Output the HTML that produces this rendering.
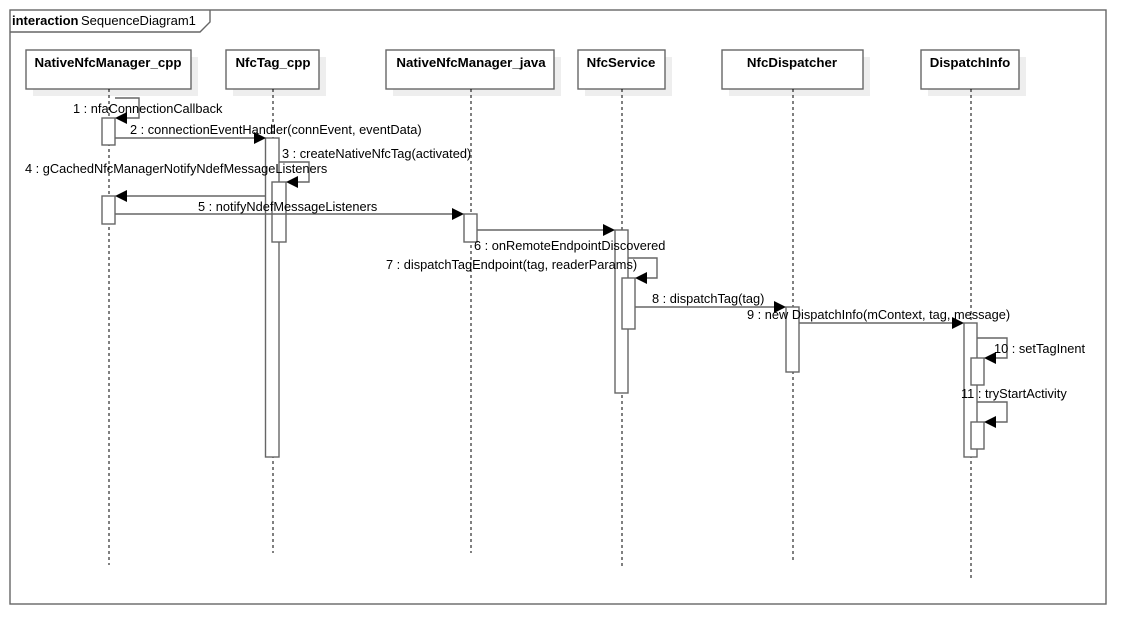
<!DOCTYPE html>
<html><head><meta charset="utf-8"><style>
html,body{margin:0;padding:0;background:#fff;}
svg{display:block;}
text{font-family:"Liberation Sans",sans-serif;font-size:12.8px;fill:#000;}
.b{font-weight:bold;font-size:13.3px;}
.t{font-size:13px;}
.l{stroke:#666;stroke-width:1.4;fill:none;}
.a{stroke:#666;stroke-width:1.4;fill:#fff;}
.d{stroke:#000;stroke-width:1;stroke-dasharray:3,3;}
.sh{fill:#eee;}
</style></head><body>
<svg width="1146" height="644" viewBox="0 0 1146 644">
<rect x="0" y="0" width="1146" height="644" fill="#fff"/>
<rect x="10" y="10" width="1096" height="594" class="l"/>
<path d="M10 32 L200 32 L210 22 L210 10" class="l"/>
<text x="12" y="25" class="b t">interaction</text><text x="81" y="25" class="t">SequenceDiagram1</text>

<g>
<rect x="33" y="57" width="165" height="39" class="sh"/>
<rect x="26" y="50" width="165" height="39" class="a"/>
<text x="108" y="67" text-anchor="middle" class="b">NativeNfcManager_cpp</text>
<rect x="233" y="57" width="93" height="39" class="sh"/>
<rect x="226" y="50" width="93" height="39" class="a"/>
<text x="273" y="67" text-anchor="middle" class="b">NfcTag_cpp</text>
<rect x="393" y="57" width="168" height="39" class="sh"/>
<rect x="386" y="50" width="168" height="39" class="a"/>
<text x="471" y="67" text-anchor="middle" class="b">NativeNfcManager_java</text>
<rect x="585" y="57" width="87" height="39" class="sh"/>
<rect x="578" y="50" width="87" height="39" class="a"/>
<text x="621" y="67" text-anchor="middle" class="b">NfcService</text>
<rect x="729" y="57" width="141" height="39" class="sh"/>
<rect x="722" y="50" width="141" height="39" class="a"/>
<text x="792" y="67" text-anchor="middle" class="b">NfcDispatcher</text>
<rect x="928" y="57" width="98" height="39" class="sh"/>
<rect x="921" y="50" width="98" height="39" class="a"/>
<text x="970" y="67" text-anchor="middle" class="b">DispatchInfo</text>
</g>

<line x1="109" y1="89" x2="109" y2="565" class="d"/>
<line x1="273" y1="89" x2="273" y2="553" class="d"/>
<line x1="471" y1="89" x2="471" y2="553" class="d"/>
<line x1="622" y1="89" x2="622" y2="568" class="d"/>
<line x1="793" y1="89" x2="793" y2="562" class="d"/>
<line x1="971" y1="89" x2="971" y2="578" class="d"/>

<rect x="102" y="118" width="13" height="27" class="a"/>
<rect x="102" y="196" width="13" height="28" class="a"/>
<rect x="265.5" y="138" width="13.5" height="319" class="a"/>
<rect x="272" y="182" width="14" height="60" class="a"/>
<rect x="464" y="214" width="13" height="28" class="a"/>
<rect x="615" y="230" width="13" height="163" class="a"/>
<rect x="622" y="278" width="13" height="51" class="a"/>
<rect x="786" y="307" width="13" height="65" class="a"/>
<rect x="964" y="323" width="13" height="134" class="a"/>
<rect x="971" y="358" width="13" height="27" class="a"/>
<rect x="971" y="422" width="13" height="27" class="a"/>

<path d="M115 98 H139 V118 H126" class="l"/><polygon points="115,118 127,112 127,124"/>
<path d="M115 138 H255" class="l"/><polygon points="266,138 254,132 254,144"/>
<path d="M279 162 H309 V182 H297" class="l"/><polygon points="286,182 298,176 298,188"/>
<path d="M266 196 H126" class="l"/><polygon points="115,196 127,190 127,202"/>
<path d="M115 214 H453" class="l"/><polygon points="464,214 452,208 452,220"/>
<path d="M477 230 H604" class="l"/><polygon points="615,230 603,224 603,236"/>
<path d="M628 258 H657 V278 H646" class="l"/><polygon points="635,278 647,272 647,284"/>
<path d="M635 307 H775" class="l"/><polygon points="786,307 774,301 774,313"/>
<path d="M799 323 H953" class="l"/><polygon points="964,323 952,317 952,329"/>
<path d="M977 338 H1007 V358 H995" class="l"/><polygon points="984,358 996,352 996,364"/>
<path d="M977 402 H1007 V422 H995" class="l"/><polygon points="984,422 996,416 996,428"/>

<text x="73" y="113">1 : nfaConnectionCallback</text>
<text x="130" y="134">2 : connectionEventHandler(connEvent, eventData)</text>
<text x="282" y="158">3 : createNativeNfcTag(activated)</text>
<text x="25" y="173">4 : gCachedNfcManagerNotifyNdefMessageListeners</text>
<text x="198" y="211">5 : notifyNdefMessageListeners</text>
<text x="474" y="250">6 : onRemoteEndpointDiscovered</text>
<text x="386" y="269">7 : dispatchTagEndpoint(tag, readerParams)</text>
<text x="652" y="303">8 : dispatchTag(tag)</text>
<text x="747" y="319">9 : new DispatchInfo(mContext, tag, message)</text>
<text x="994" y="353">10 : setTagInent</text>
<text x="961" y="398">11 : tryStartActivity</text>
</svg>
</body></html>
